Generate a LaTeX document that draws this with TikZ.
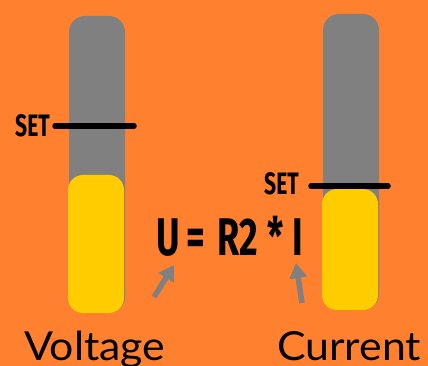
\documentclass[tikz,border=0pt]{standalone}
\usepackage{fontspec}
\usetikzlibrary{arrows.meta}
\newfontfamily\condfont[FakeStretch=0.68]{Fira Sans}
\newfontfamily\labelfont[FakeStretch=1.07]{Lato}
\definecolor{bg}{RGB}{255,129,48}
\definecolor{bargray}{RGB}{128,128,128}
\definecolor{baryellow}{RGB}{255,204,0}
\tikzset{
  x=1pt, y=-1pt,
  graybar/.style={fill=bargray, draw=none, rounded corners=16pt},
  yellowbar/.style={fill=baryellow, draw=none, rounded corners=15pt},
  setline/.style={line width=5.5pt, line cap=round, black},
  settext/.style={font=\condfont\bfseries\fontsize{31}{31}\selectfont, inner sep=0pt, anchor=base west},
  eqtext/.style={font=\condfont\bfseries\fontsize{53}{53}\selectfont, inner sep=0pt, anchor=base west},
  caption/.style={font=\labelfont\fontsize{40}{40}\selectfont, inner sep=0pt, anchor=base west},
  pointer/.style={line width=5.5pt, bargray, -{Triangle[length=15pt,width=17pt]}},
}
\begin{document}
\begin{tikzpicture}
\useasboundingbox (0,0) rectangle (428,366);
\fill[bg] (0,0) rectangle (428,366);
% left bar
\fill[graybar] (69,16) rectangle (125,313);
\fill[yellowbar] (68,175) rectangle (124,313);
% right bar
\fill[graybar] (323,14) rectangle (379,310);
\fill[yellowbar] (322,189) rectangle (378,310);
% set markers
\node[settext] (setL) at (15,137) {SET};
\coordinate (setLa) at (55,126);
\coordinate (setLb) at (134,126);
\draw[setline] (setLa) -- (setLb);
\node[settext] (setR) at (264,195) {SET};
\coordinate (setRa) at (311,186);
\coordinate (setRb) at (388,186);
\draw[setline] (setRa) -- (setRb);
% equation
\node[eqtext] (eqU) at (156,255) {U};
\node[eqtext] (eqEq) at (186,255) {=};
\node[eqtext] (eqR) at (217,255) {R2};
\node[eqtext] (eqStar) at (267,255) {*};
\node[eqtext] (eqI) at (292,255) {I};
% arrows
\coordinate (arLs) at (154,297);
\coordinate (arLe) at (174,265);
\draw[pointer] (arLs) -- (arLe);
\coordinate (arRs) at (302,303);
\coordinate (arRe) at (296,263);
\draw[pointer] (arRs) -- (arRe);
% captions
\node[caption] (volt) at (24,360) {Voltage};
\node[caption] (curr) at (277,360) {Current};
\end{tikzpicture}
\end{document}
